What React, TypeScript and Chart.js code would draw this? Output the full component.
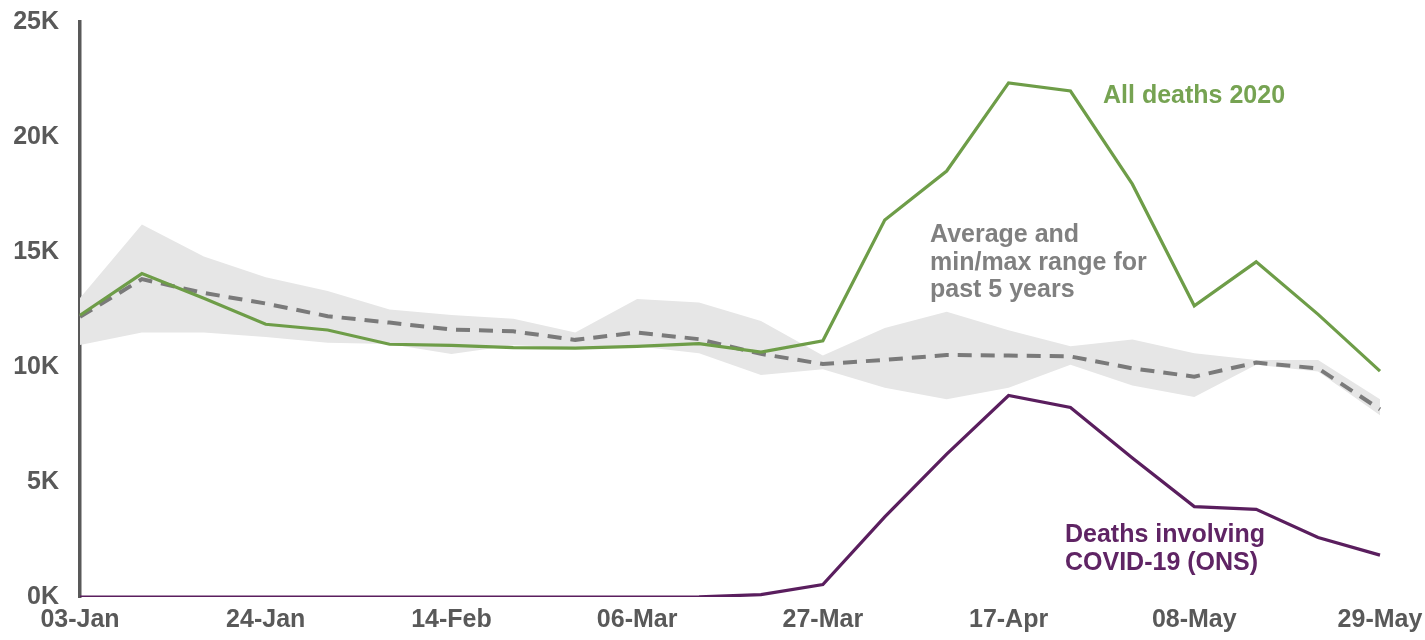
import React, { useEffect, useRef } from "react";
import { Chart, registerables } from "chart.js";

Chart.register(...registerables);

const weeks = [
  "03-Jan", "10-Jan", "17-Jan", "24-Jan", "31-Jan", "07-Feb", "14-Feb", "21-Feb",
  "28-Feb", "06-Mar", "13-Mar", "20-Mar", "27-Mar", "03-Apr", "10-Apr", "17-Apr",
  "24-Apr", "01-May", "08-May", "15-May", "22-May", "29-May",
];

// values in thousands
const allDeaths2020 = [
  12.25, 14.06, 12.99, 11.86, 11.61, 10.99, 10.94, 10.84, 10.82, 10.9, 11.02, 10.65,
  11.14, 16.39, 18.52, 22.35, 22.0, 17.95, 12.66, 14.57, 12.29, 9.82,
];
const covidDeaths = [
  0, 0, 0, 0, 0, 0, 0, 0, 0, 0, 0.01, 0.1,
  0.54, 3.48, 6.21, 8.76, 8.24, 6.04, 3.93, 3.81, 2.59, 1.82,
];
const avg5yr = [
  12.18, 13.82, 13.22, 12.76, 12.21, 11.93, 11.63, 11.55, 11.18, 11.5, 11.21, 10.57,
  10.13, 10.31, 10.52, 10.5, 10.46, 9.94, 9.58, 10.19, 9.94, 8.16,
];
const max5yr = [
  13.0, 16.2, 14.8, 13.9, 13.3, 12.5, 12.26, 12.1, 11.5, 12.96, 12.8, 12.0,
  10.5, 11.7, 12.4, 11.6, 10.9, 11.2, 10.6, 10.3, 10.3, 8.6,
];
const min5yr = [
  10.96, 11.5, 11.5, 11.3, 11.05, 11.0, 10.57, 10.95, 10.85, 10.9, 10.6, 9.65,
  9.9, 9.1, 8.6, 9.1, 10.1, 9.2, 8.7, 10.1, 9.8, 7.9,
];
const yTicks = [0, 5, 10, 15, 20, 25];

const FONT = "'Liberation Sans', Arial, sans-serif";

const annotations = {
  id: "annotations",
  afterDatasetsDraw(chart: any) {
    const ctx = chart.ctx;
    ctx.save();
    ctx.font = `bold 25px ${FONT}`;
    ctx.textBaseline = "alphabetic";
    ctx.textAlign = "left";
    ctx.fillStyle = "#76a352";
    ctx.fillText("All deaths 2020", 1103, 103);
    ctx.fillStyle = "#808080";
    ctx.fillText("Average and", 930, 242);
    ctx.fillText("min/max range for", 930, 269.5);
    ctx.fillText("past 5 years", 930, 297);
    ctx.fillStyle = "#5f2464";
    ctx.fillText("Deaths involving", 1065, 542);
    ctx.fillText("COVID-19 (ONS)", 1065, 570);
    ctx.restore();
  },
};

export default function App() {
  const ref = useRef<HTMLCanvasElement>(null);
  useEffect(() => {
    if (!ref.current) return;
    const chart = new Chart(ref.current, {
      type: "line",
      data: {
        labels: weeks,
        datasets: [
          {
            label: "Deaths involving COVID-19 (ONS)",
            data: covidDeaths,
            borderColor: "#5a1e5e",
            borderWidth: 3.2,
            pointRadius: 0,
            tension: 0,
            fill: false,
          },
          {
            label: "All deaths 2020",
            data: allDeaths2020,
            borderColor: "#6e9d48",
            borderWidth: 3.2,
            pointRadius: 0,
            tension: 0,
            fill: false,
          },
          {
            label: "5-year average",
            data: avg5yr,
            borderColor: "#7a7a7a",
            borderWidth: 4,
            borderDash: [14, 9],
            pointRadius: 0,
            tension: 0,
            fill: false,
          },
          {
            label: "5-year max",
            data: max5yr,
            borderWidth: 0,
            borderColor: "rgba(0,0,0,0)",
            backgroundColor: "#e6e6e6",
            pointRadius: 0,
            tension: 0,
            fill: "+1",
          },
          {
            label: "5-year min",
            data: min5yr,
            borderWidth: 0,
            borderColor: "rgba(0,0,0,0)",
            pointRadius: 0,
            tension: 0,
            fill: false,
          },
        ],
      },
      options: {
        responsive: false,
        animation: false,
        devicePixelRatio: 1,
        layout: { padding: { left: 0, right: 45, top: 22, bottom: 0 } },
        plugins: { legend: { display: false }, tooltip: { enabled: false } },
        scales: {
          x: {
            type: "category",
            offset: false,
            grid: { display: false, drawTicks: false },
            border: { display: false },
            ticks: {
              autoSkip: false,
              maxRotation: 0,
              minRotation: 0,
              padding: 8,
              color: "#595959",
              font: { family: FONT, size: 25, weight: "bold" },
              callback: (_v: any, i: number) => (i % 3 === 0 ? weeks[i] : ""),
            },
            afterFit: (s: any) => {
              s.height = 43;
              s.paddingLeft = 0;
              s.paddingRight = 0;
            },
          },
          y: {
            min: 0,
            max: 25,
            grid: { display: false, drawTicks: false },
            border: { display: true, color: "#595959", width: 3.5 },
            afterBuildTicks: (s: any) => {
              s.ticks = yTicks.map((v) => ({ value: v }));
            },
            ticks: {
              padding: 21,
              color: "#595959",
              font: { family: FONT, size: 25, weight: "bold" },
              callback: (v: any) => `${v}K`,
            },
            afterFit: (s: any) => {
              s.width = 80;
              s.paddingTop = 0;
              s.paddingBottom = 0;
            },
          },
        },
      },
      plugins: [annotations],
    });
    return () => chart.destroy();
  }, []);
  return (
    <div style={{ position: "fixed", left: 0, top: 0, width: 1425, height: 640, background: "#fff" }}>
      <canvas ref={ref} width={1425} height={640} />
    </div>
  );
}
